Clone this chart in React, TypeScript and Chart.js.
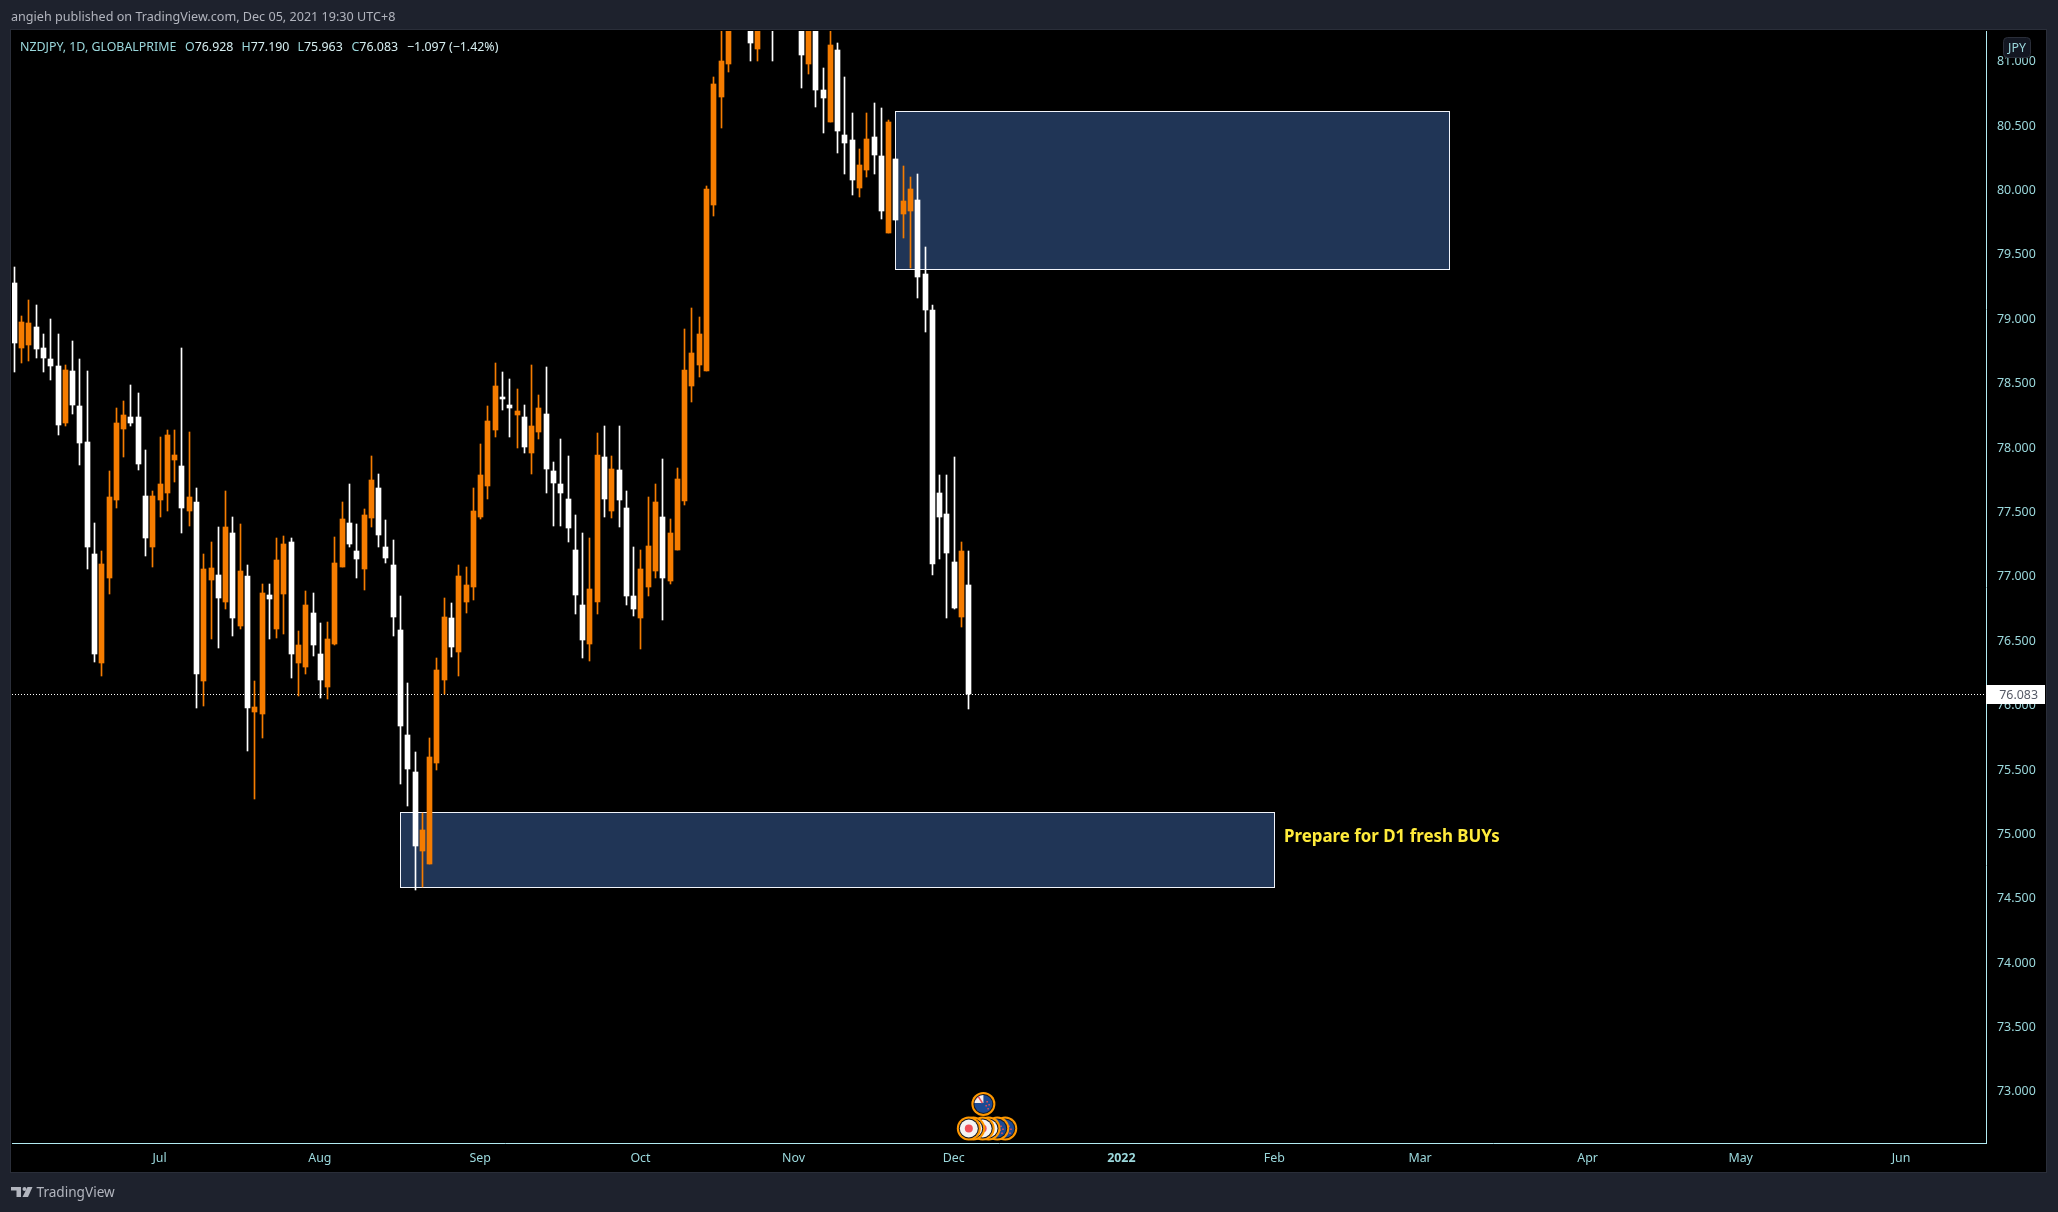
import React, { useEffect, useRef } from "react";
import { Chart, registerables } from "chart.js";

Chart.register(...registerables);

const opens = [
  79.27,78.77,78.79,78.93,78.77,78.68,78.63,78.19,78.59,78.32,
  78.04,77.17,76.32,76.98,77.59,78.14,78.23,78.23,77.62,77.22,
  77.59,77.64,77.90,77.85,77.50,77.57,76.18,76.97,77.01,76.80,
  77.33,76.61,77.00,75.94,75.93,76.85,76.59,76.86,77.26,76.32,
  76.29,76.71,76.39,76.14,76.47,77.07,77.41,77.19,77.05,77.45,
  77.68,77.22,77.08,76.58,75.76,75.48,74.86,74.76,75.55,76.19,
  76.67,76.41,76.80,76.91,77.46,77.70,78.13,78.38,78.33,78.25,
  78.23,77.95,78.12,78.26,77.81,77.71,77.60,77.20,76.77,76.47,
  76.80,77.92,77.50,77.82,77.53,76.84,76.67,76.91,77.04,77.46,
  76.96,77.20,77.58,78.47,78.64,78.59,79.88,80.72,80.97,81.55,
  81.95,81.55,81.09,81.45,81.90,81.40,81.80,81.50,81.85,80.97,
  81.40,80.77,80.52,81.08,80.42,80.38,80.01,80.15,80.41,80.26,
  79.66,80.24,79.81,79.83,79.92,79.34,79.06,77.64,77.48,77.11,76.68,76.928,
];
const highs = [
  79.40,79.02,79.14,79.10,78.88,78.99,78.88,78.64,78.82,78.68,
  78.59,77.41,77.19,77.81,78.30,78.36,78.48,78.42,77.98,77.66,
  78.08,78.13,78.13,78.77,78.12,77.68,77.17,77.26,77.38,77.66,
  77.46,77.40,77.08,76.18,76.94,76.94,77.29,77.31,77.29,76.57,
  76.88,76.87,76.63,76.64,77.30,77.57,77.71,77.40,77.52,77.93,
  77.79,77.43,77.28,76.84,76.17,75.63,75.16,75.74,76.36,76.83,
  76.79,77.08,77.07,77.68,78.02,78.32,78.65,78.58,78.53,78.45,
  78.33,78.64,78.40,78.62,77.88,78.06,77.93,77.47,77.33,77.29,
  78.11,78.16,77.93,78.16,77.66,77.22,77.20,77.61,77.71,77.91,
  77.44,77.84,78.92,79.08,79.01,80.03,80.87,81.23,81.75,82.10,
  82.20,81.90,81.60,81.90,82.10,81.95,82.00,82.05,82.00,81.60,
  81.55,80.94,81.30,81.14,80.87,80.59,80.31,80.59,80.67,80.63,
  80.54,80.24,80.18,80.10,80.12,79.55,79.10,77.78,77.78,77.92,77.26,77.19,
];
const lows = [
  78.58,78.65,78.67,78.69,78.58,78.52,78.09,78.16,78.26,77.86,
  77.05,76.33,76.22,76.86,77.53,77.92,78.16,77.82,77.15,77.07,
  77.46,77.50,77.73,77.33,77.39,75.97,75.99,76.51,76.44,76.74,
  76.53,76.59,75.64,75.27,75.74,76.51,76.52,76.55,76.21,76.07,
  76.24,76.38,76.05,76.04,76.46,77.07,77.22,76.98,76.89,77.38,
  77.22,77.10,76.53,75.38,75.21,74.56,74.58,74.76,75.49,76.08,
  76.37,76.22,76.71,76.81,77.44,77.60,78.08,78.29,78.08,77.99,
  77.95,77.79,78.06,77.64,77.39,77.39,77.26,76.70,76.36,76.34,
  76.70,77.46,77.45,77.38,76.77,76.69,76.43,76.84,76.98,76.66,
  76.94,77.20,77.55,78.35,78.54,78.59,79.79,80.48,80.91,81.40,
  81.45,81.00,81.00,81.35,81.00,81.30,81.40,81.40,80.79,80.90,
  80.64,80.44,80.52,80.28,80.12,79.96,79.94,80.10,80.12,79.77,
  79.66,79.76,79.62,79.39,79.16,78.89,77.01,77.13,76.67,76.74,76.60,75.963,
];
const closes = [
  78.81,78.97,78.96,78.76,78.69,78.63,78.17,78.60,78.33,78.03,
  77.22,76.39,77.09,77.61,78.19,78.25,78.19,77.87,77.29,77.62,
  77.71,78.09,77.94,77.53,77.61,76.24,77.05,77.06,76.83,77.38,
  76.67,77.04,75.97,75.98,76.87,76.82,77.12,77.25,76.39,76.46,
  76.77,76.46,76.19,76.51,77.10,77.44,77.25,77.13,77.47,77.74,
  77.32,77.14,76.68,75.83,75.50,74.90,75.03,75.59,76.27,76.68,
  76.45,77.00,76.93,77.50,77.78,78.20,78.47,78.37,78.30,78.28,
  78.00,78.16,78.30,77.83,77.72,77.64,77.37,76.85,76.50,76.90,
  77.94,77.60,77.83,77.59,76.84,76.74,77.05,77.23,77.57,76.98,
  77.33,77.75,78.60,78.73,78.88,80.00,80.82,81.00,81.55,81.95,
  81.60,81.14,81.50,81.70,81.40,81.80,81.50,81.85,81.04,81.45,
  80.77,80.71,81.12,80.45,80.36,80.07,80.19,80.39,80.27,79.83,
  80.52,79.76,79.91,80.00,79.32,79.06,77.09,77.46,77.18,76.75,77.19,76.083,
];

const priceTicks = [73, 73.5, 74, 74.5, 75, 75.5, 76, 76.5, 77, 77.5, 78, 78.5, 79, 79.5, 80, 80.5, 81];
const monthTickIndex = [20, 42, 64, 86, 107, 129, 152, 173, 193, 216, 237, 259];
const monthTickLabels = ["Jul", "Aug", "Sep", "Oct", "Nov", "Dec", "2022", "Feb", "Mar", "Apr", "May", "Jun"];

const zoneStart = [53, 121];
const zoneEnd = [173, 197];
const zoneTop = [75.165, 80.606];
const zoneBottom = [74.583, 79.38];

const noteText = "Prepare for D1 fresh BUYs";
const noteIndex = 174.25;
const notePrice = 74.97;

const eventRowIndex = [136, 134.9, 133.7, 132.9, 131.6, 131];
const eventRowKind = ["nz", "nz", "jp", "jp", "jp", "jp"];
const eventTopIndex = 133;

const headerText = "angieh published on TradingView.com, Dec 05, 2021 19:30 UTC+8";
const symbolText = "NZDJPY, 1D, GLOBALPRIME";
const ohlcNames = ["O", "H", "L", "C"];
const ohlcValues = ["76.928", "77.190", "75.963", "76.083"];
const ohlcX = [185, 241.5, 297.5, 351.5];
const changeText = "\u22121.097 (\u22121.42%)";

const ORANGE = "#f57c00";
const WHITE = "#ffffff";
const PAGE = "#1e222d";
const EDGE = "#2a2e39";
const CYAN = "#9bd8dc";
const AXIS = "#b2ebf2";
const FONT = '"Noto Sans", sans-serif';

const candleColor = (i: number) => (closes[i] >= opens[i] ? ORANGE : WHITE);

function drawFlagNZ(ctx: CanvasRenderingContext2D, x: number, y: number, r: number) {
  ctx.save();
  ctx.beginPath();
  ctx.arc(x, y, r, 0, Math.PI * 2);
  ctx.fillStyle = "#ff9800";
  ctx.fill();
  ctx.beginPath();
  ctx.arc(x, y, r - 2, 0, Math.PI * 2);
  ctx.fillStyle = "#131722";
  ctx.fill();
  ctx.beginPath();
  ctx.arc(x, y, r - 3, 0, Math.PI * 2);
  ctx.fillStyle = "#1b4a94";
  ctx.fill();
  ctx.clip();
  ctx.fillStyle = "#f4f0f0";
  ctx.fillRect(x - r, y - r, r, r - 1);
  ctx.strokeStyle = "#e8505b";
  ctx.lineWidth = 1.5;
  ctx.beginPath();
  ctx.moveTo(x - r, y - 1);
  ctx.lineTo(x - 1, y - r);
  ctx.moveTo(x - r + 4, y - r);
  ctx.lineTo(x - 1, y - 1);
  ctx.stroke();
  ctx.fillStyle = "#e8505b";
  [[3, -3], [5, 0], [2, 1], [4, 4]].forEach(([dx, dy]) => ctx.fillRect(x + dx, y + dy, 1.5, 1.5));
  ctx.restore();
}

function drawFlagJP(ctx: CanvasRenderingContext2D, x: number, y: number, r: number) {
  ctx.beginPath();
  ctx.arc(x, y, r, 0, Math.PI * 2);
  ctx.fillStyle = "#ff9800";
  ctx.fill();
  ctx.beginPath();
  ctx.arc(x, y, r - 2, 0, Math.PI * 2);
  ctx.fillStyle = "#131722";
  ctx.fill();
  ctx.beginPath();
  ctx.arc(x, y, r - 3, 0, Math.PI * 2);
  ctx.fillStyle = "#f4f4f4";
  ctx.fill();
  ctx.beginPath();
  ctx.arc(x, y, 4, 0, Math.PI * 2);
  ctx.fillStyle = "#f0505a";
  ctx.fill();
}

const backdropPlugin = {
  id: "backdrop",
  // keep candles on whole device pixels so they stay as crisp as the original
  afterDatasetsUpdate(chart: any) {
    chart.data.datasets.forEach((_: any, d: number) => {
      chart.getDatasetMeta(d).data.forEach((el: any) => {
        el.x = Math.floor(el.x) + 0.5;
        const y = Math.round(el.y);
        let base = Math.round(el.base);
        if (base - y < 1) base = y + 1;
        el.y = y;
        el.base = base;
        el.height = base - y;
      });
    });
  },
  beforeDraw(chart: any) {
    const { ctx, width, height } = chart;
    ctx.save();
    ctx.fillStyle = PAGE;
    ctx.fillRect(0, 0, width, height);
    ctx.fillStyle = "#000000";
    ctx.fillRect(11, 30, 2036, 1142);
    ctx.strokeStyle = EDGE;
    ctx.lineWidth = 1;
    ctx.strokeRect(10.5, 29.5, 2036, 1143);
    ctx.restore();
  },
  beforeDatasetsDraw(chart: any) {
    const { ctx, scales, chartArea } = chart;
    const sx = scales.x;
    const sy = scales.y;
    ctx.save();
    ctx.beginPath();
    ctx.rect(chartArea.left, chartArea.top, chartArea.right - chartArea.left, chartArea.bottom - chartArea.top);
    ctx.clip();
    zoneStart.forEach((start, i) => {
      const x0 = Math.floor(sx.getPixelForValue(start));
      const x1 = Math.floor(sx.getPixelForValue(zoneEnd[i]));
      const y0 = Math.round(sy.getPixelForValue(zoneTop[i]));
      const y1 = Math.round(sy.getPixelForValue(zoneBottom[i]));
      ctx.fillStyle = "#203556";
      ctx.fillRect(x0, y0, x1 - x0, y1 - y0);
      ctx.strokeStyle = "#f0f3fa";
      ctx.lineWidth = 1;
      ctx.strokeRect(x0 + 0.5, y0 + 0.5, x1 - x0, y1 - y0);
    });
    const py = Math.round(sy.getPixelForValue(closes[closes.length - 1])) + 0.5;
    ctx.strokeStyle = "#ffffff";
    ctx.lineWidth = 1;
    ctx.setLineDash([1, 2]);
    ctx.beginPath();
    ctx.moveTo(chartArea.left, py);
    ctx.lineTo(chartArea.right, py);
    ctx.stroke();
    ctx.restore();
  },
  afterDraw(chart: any) {
    const { ctx, scales, chartArea } = chart;
    const sx = scales.x;
    const sy = scales.y;
    ctx.save();
    ctx.textBaseline = "middle";
    ctx.textAlign = "left";

    ctx.font = `12.6px ${FONT}`;
    ctx.fillStyle = "#b2b5be";
    ctx.fillText(headerText, 11, 17);

    ctx.font = `12.4px ${FONT}`;
    ctx.fillStyle = CYAN;
    ctx.fillText(symbolText, 20, 47);
    ohlcNames.forEach((n, i) => {
      ctx.fillStyle = CYAN;
      ctx.fillText(n, ohlcX[i], 47);
      const w = ctx.measureText(n).width;
      ctx.fillStyle = "#d6eef0";
      ctx.fillText(ohlcValues[i], ohlcX[i] + w, 47);
    });
    ctx.fillStyle = "#d6eef0";
    ctx.fillText(changeText, 407, 47);

    ctx.font = `bold 16.9px ${FONT}`;
    ctx.fillStyle = "#ffeb3b";
    ctx.fillText(noteText, sx.getPixelForValue(noteIndex), sy.getPixelForValue(notePrice));

    const rowY = chartArea.bottom - 14.5;
    eventRowIndex.forEach((idx, i) => {
      const x = sx.getPixelForValue(idx);
      if (eventRowKind[i] === "nz") drawFlagNZ(ctx, x, rowY, 12);
      else drawFlagJP(ctx, x, rowY, 12);
    });
    drawFlagNZ(ctx, sx.getPixelForValue(eventTopIndex), chartArea.bottom - 39, 12);

    // JPY currency badge
    ctx.fillStyle = "#131722";
    ctx.strokeStyle = EDGE;
    ctx.lineWidth = 1;
    ctx.beginPath();
    ctx.roundRect(2003.5, 37.5, 27, 20, 4);
    ctx.fill();
    ctx.stroke();
    ctx.fillStyle = CYAN;
    ctx.textAlign = "center";
    ctx.font = `12.4px ${FONT}`;
    ctx.fillText("JPY", 2017, 48);

    // last price label
    const lastY = sy.getPixelForValue(closes[closes.length - 1]);
    ctx.fillStyle = "#ffffff";
    ctx.fillRect(chartArea.right, Math.round(lastY) - 9, 59, 19);
    ctx.fillStyle = "#555a66";
    ctx.textAlign = "right";
    ctx.fillText(closes[closes.length - 1].toFixed(3), 2038, Math.round(lastY) + 1);

    // TradingView logo and wordmark
    ctx.fillStyle = "#b2b5be";
    ctx.fillRect(11, 1187, 10, 3.5);
    ctx.fillRect(16.5, 1187, 4.5, 10);
    ctx.beginPath();
    ctx.arc(24.5, 1189, 2, 0, Math.PI * 2);
    ctx.fill();
    ctx.beginPath();
    ctx.moveTo(27.5, 1187);
    ctx.lineTo(32.5, 1187);
    ctx.lineTo(28, 1197);
    ctx.lineTo(22.5, 1197);
    ctx.closePath();
    ctx.fill();
    ctx.textAlign = "left";
    ctx.font = `13.6px ${FONT}`;
    ctx.fillText("TradingView", 36.5, 1193);
    ctx.restore();
  },
};

export default function App() {
  const ref = useRef<HTMLCanvasElement | null>(null);
  useEffect(() => {
    if (!ref.current) return;
    const indices = opens.map((_, i) => i);
    const chart = new Chart(ref.current, {
      type: "bar",
      plugins: [backdropPlugin],
      data: {
        datasets: [
          {
            label: "wick",
            data: indices.map((i) => ({ x: i, y: [lows[i], highs[i]] })),
            backgroundColor: (c: any) => candleColor(c.dataIndex),
            barThickness: 1,
            grouped: false,
            borderWidth: 0,
            order: 2,
          },
          {
            label: "body",
            data: indices.map((i) => ({ x: i, y: [Math.min(opens[i], closes[i]), Math.max(opens[i], closes[i])] })),
            backgroundColor: (c: any) => candleColor(c.dataIndex),
            barThickness: 5,
            grouped: false,
            borderWidth: 0,
            minBarLength: 2,
            order: 1,
          },
        ] as any,
      },
      options: {
        responsive: false,
        animation: false,
        devicePixelRatio: 1,
        layout: { padding: { left: 12, top: 31, right: 12, bottom: 39 } },
        plugins: { legend: { display: false }, tooltip: { enabled: false }, title: { display: false } },
        scales: {
          x: {
            type: "linear",
            offset: false,
            min: -0.316,
            max: 270.6,
            grid: { display: false, drawTicks: false, offset: false },
            border: { display: true, color: AXIS, width: 1 },
            afterBuildTicks: (s: any) => {
              s.ticks = monthTickIndex.map((value) => ({ value }));
            },
            afterFit: (s: any) => {
              s.height = 30;
            },
            ticks: {
              autoSkip: false,
              maxRotation: 0,
              padding: 8,
              labelOffset: -0.5,
              color: CYAN,
              font: (c: any) => ({
                family: FONT,
                size: 12.4,
                weight: c.tick && c.tick.value === 152 ? "bold" : "normal",
              }),
              callback: (v: any) => monthTickLabels[monthTickIndex.indexOf(Number(v))] ?? "",
            },
          },
          y: {
            type: "linear",
            position: "right",
            min: 72.596,
            max: 81.23,
            grid: { display: false, drawTicks: false },
            border: { display: true, color: AXIS, width: 1 },
            afterBuildTicks: (s: any) => {
              s.ticks = priceTicks.map((value) => ({ value }));
            },
            afterFit: (s: any) => {
              s.width = 60;
            },
            ticks: {
              autoSkip: false,
              padding: 11,
              labelOffset: 1,
              color: CYAN,
              font: { family: FONT, size: 12.4 },
              callback: (v: any) => Number(v).toFixed(3),
            },
          },
        },
      } as any,
    });
    return () => chart.destroy();
  }, []);
  return (
    <div style={{ position: "absolute", left: 0, top: 0, width: 2058, height: 1212, background: PAGE }}>
      <canvas ref={ref} width={2058} height={1212} style={{ display: "block", width: 2058, height: 1212 }} />
    </div>
  );
}
